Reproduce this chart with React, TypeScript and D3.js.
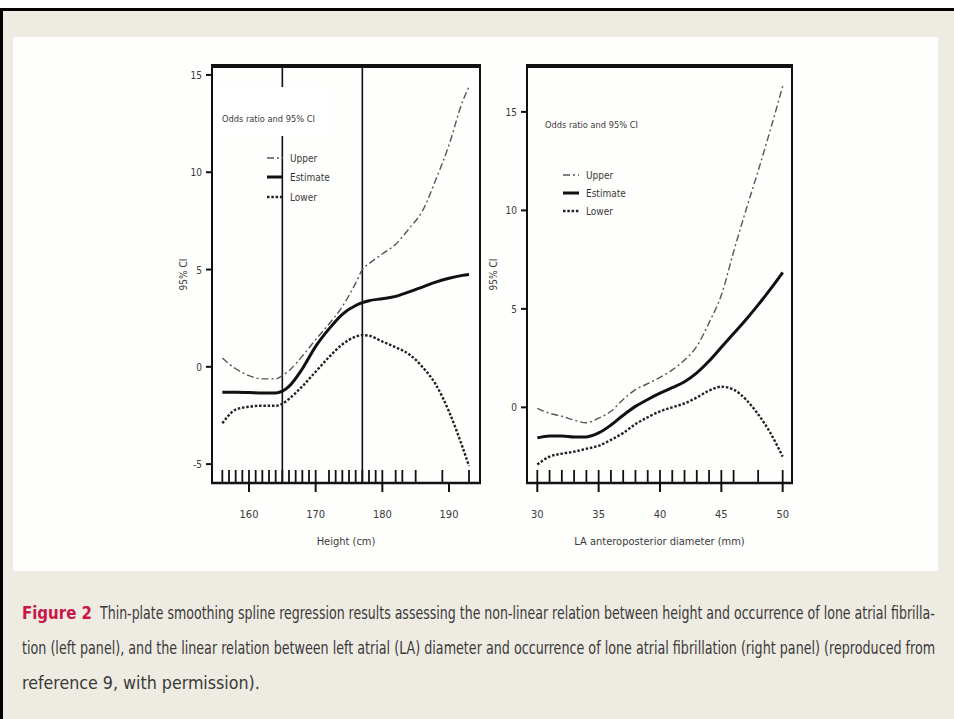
import { useLayoutEffect, useRef, useState } from 'react'
import * as d3 from 'd3'

// Left panel: height (cm)
const heightX = [156, 158, 160, 162, 164, 165, 166, 168, 170, 172, 174, 176, 177, 178, 180, 182, 184, 186, 188, 190, 192, 193]
const heightUpper = [0.45, -0.1, -0.45, -0.62, -0.62, -0.45, -0.2, 0.55, 1.4, 2.2, 3.1, 4.3, 5.0, 5.3, 5.8, 6.3, 7.1, 8.0, 9.6, 11.4, 13.6, 14.4]
const heightEstimate = [-1.3, -1.3, -1.32, -1.35, -1.35, -1.25, -1.0, -0.1, 1.05, 1.95, 2.7, 3.15, 3.3, 3.4, 3.5, 3.62, 3.85, 4.1, 4.35, 4.55, 4.7, 4.75]
const heightLower = [-2.9, -2.2, -2.05, -2.0, -2.0, -1.9, -1.65, -1.0, -0.25, 0.5, 1.15, 1.55, 1.63, 1.6, 1.3, 1.0, 0.65, 0.0, -0.9, -2.3, -4.1, -5.1]
const heightRug = [156, 157, 158, 159, 160, 161, 162, 163, 164, 165, 166, 167, 168, 169, 170, 172, 173, 174, 175, 176, 177, 178, 179, 180, 182, 183, 185, 189, 193]
const heightRefLines = [165, 177]
const heightXTicks = [160, 170, 180, 190]
const heightYTicks = [-5, 0, 5, 10, 15]

// Right panel: LA anteroposterior diameter (mm)
const laX = [30, 31, 32, 33, 34, 35, 36, 37, 38, 39, 40, 41, 42, 43, 44, 45, 46, 47, 48, 49, 50]
const laUpper = [-0.05, -0.3, -0.45, -0.65, -0.78, -0.55, -0.2, 0.4, 0.9, 1.2, 1.52, 1.9, 2.4, 3.1, 4.3, 5.7, 7.9, 10.0, 12.0, 14.1, 16.3]
const laEstimate = [-1.55, -1.45, -1.45, -1.5, -1.5, -1.3, -0.9, -0.4, 0.05, 0.4, 0.72, 1.0, 1.3, 1.75, 2.35, 3.05, 3.75, 4.45, 5.2, 6.0, 6.85]
const laLower = [-2.9, -2.5, -2.35, -2.25, -2.1, -1.95, -1.65, -1.3, -0.85, -0.5, -0.2, 0.0, 0.2, 0.5, 0.85, 1.05, 0.9, 0.4, -0.35, -1.3, -2.5]
const laRug = [30, 31, 32, 33, 34, 35, 36, 37, 38, 39, 40, 41, 42, 43, 44, 45, 46, 48, 50]
const laXTicks = [30, 35, 40, 45, 50]
const laYTicks = [0, 5, 10, 15]

const legendLabels = ['Upper', 'Estimate', 'Lower']
const legendTitle = 'Odds ratio and 95% CI'

const captionLines = [
  'Thin-plate smoothing spline regression results assessing the non-linear relation between height and occurrence of lone atrial fibrilla-',
  'tion (left panel), and the linear relation between left atrial (LA) diameter and occurrence of lone atrial fibrillation (right panel) (reproduced from',
  'reference 9, with permission).',
]

const NARROW = '"Liberation Sans Narrow", "DejaVu Sans Condensed", "Liberation Sans", sans-serif'
const INK = '#3a3a3a'

const STYLES = {
  upper: { width: 1.4, dash: '7,3,2,3', color: '#555' },
  estimate: { width: 3, dash: null, color: '#111' },
  lower: { width: 2.4, dash: '2.5,1.8', color: '#222' },
}

// text squeezed horizontally to a given width (measured, then scaled)
function FitText({ x, y, width, children, ...rest }: any) {
  const ref = useRef<SVGTextElement>(null)
  const [sx, setSx] = useState(1)
  useLayoutEffect(() => {
    if (!ref.current) return
    const len = ref.current.getComputedTextLength()
    if (len > 0) setSx(width / len)
  }, [width, children])
  return (
    <text ref={ref} transform={`translate(${x},${y}) scale(${sx},1)`} {...rest}>{children}</text>
  )
}

type PanelProps = {
  box: { x0: number; x1: number; y0: number; y1: number }
  xDomain: [number, number]
  yDomain: [number, number]
  xs: number[]
  upper: number[]
  estimate: number[]
  lower: number[]
  rug: number[]
  xTicks: number[]
  yTicks: number[]
  xLabel: string
  yLabelOffset: number
  refLines?: number[]
  legend: { titleX: number; titleY: number; lineX: number; itemY: number[]; mask?: boolean }
}

function Panel({ box, xDomain, yDomain, xs, upper, estimate, lower, rug, xTicks, yTicks, xLabel, yLabelOffset, refLines = [], legend }: PanelProps) {
  const x = d3.scaleLinear().domain(xDomain).range([box.x0, box.x1])
  const y = d3.scaleLinear().domain(yDomain).range([box.y1, box.y0])
  const line = d3.line<number>()
    .x((_, i) => x(xs[i]))
    .y(d => y(d))
    .curve(d3.curveMonotoneX)

  const series = [
    { key: 'upper', values: upper },
    { key: 'estimate', values: estimate },
    { key: 'lower', values: lower },
  ] as const

  const midY = (box.y0 + box.y1) / 2
  const midX = (box.x0 + box.x1) / 2

  return (
    <g>
      {/* reference lines */}
      {refLines.map(v => (
        <line key={v} x1={x(v)} x2={x(v)} y1={box.y0} y2={box.y1} stroke="#111" strokeWidth={1.6} />
      ))}

      {/* legend title sits on a white patch (covers ref line) */}
      {legend.mask && (
        <rect x={legend.titleX - 6} y={legend.titleY - 35} width={110} height={49} fill="#fff" />
      )}
      <FitText x={legend.titleX} y={legend.titleY} width={93} fontSize={9} fontFamily={NARROW} fill={INK}>
        {legendTitle}
      </FitText>
      {legendLabels.map((lab, i) => {
        const st = [STYLES.upper, STYLES.estimate, STYLES.lower][i]
        const ly = legend.itemY[i]
        return (
          <g key={lab}>
            <line x1={legend.lineX} x2={legend.lineX + 16} y1={ly - 4} y2={ly - 4}
              stroke={st.color} strokeWidth={st.width} strokeDasharray={st.dash ?? undefined} />
            <text x={legend.lineX + 23} y={ly} fontSize={10} fontFamily={NARROW} fill={INK}>{lab}</text>
          </g>
        )
      })}

      {/* curves */}
      {series.map(s => {
        const st = STYLES[s.key]
        return (
          <path key={s.key} d={line(s.values as number[]) ?? ''} fill="none" stroke={st.color}
            strokeWidth={st.width} strokeDasharray={st.dash ?? undefined} />
        )
      })}

      {/* rug */}
      {rug.map(v => (
        <line key={v} x1={x(v)} x2={x(v)} y1={box.y1} y2={box.y1 - 13} stroke="#111" strokeWidth={1.8} />
      ))}

      {/* frame */}
      <line x1={box.x0} x2={box.x0} y1={box.y0} y2={box.y1} stroke="#111" strokeWidth={2} />
      <line x1={box.x1} x2={box.x1} y1={box.y0} y2={box.y1} stroke="#111" strokeWidth={2} />
      <line x1={box.x0 - 1} x2={box.x1 + 1} y1={box.y1} y2={box.y1} stroke="#111" strokeWidth={2.5} />
      <line x1={box.x0 - 1} x2={box.x1 + 1} y1={box.y0} y2={box.y0} stroke="#111" strokeWidth={4} />

      {/* x axis */}
      {xTicks.map(t => (
        <g key={t}>
          <line x1={x(t)} x2={x(t)} y1={box.y1} y2={box.y1 + 9} stroke="#111" strokeWidth={2} />
          <text x={x(t)} y={box.y1 + 35} textAnchor="middle" fontSize={11} fontFamily={NARROW} fill={INK}>{t}</text>
        </g>
      ))}
      <text x={midX} y={box.y1 + 62} textAnchor="middle" fontSize={11} fontFamily={NARROW} fill={INK}>{xLabel}</text>

      {/* y axis */}
      {yTicks.map(t => (
        <g key={t}>
          <line x1={box.x0} x2={box.x0 - 6} y1={y(t)} y2={y(t)} stroke="#111" strokeWidth={2} />
          <text x={box.x0 - 10} y={y(t) + 4} textAnchor="end" fontSize={10} fontFamily={NARROW} fill={INK}>{t}</text>
        </g>
      ))}
      <text transform={`translate(${box.x0 - yLabelOffset},${midY}) rotate(-90)`} textAnchor="middle" fontSize={10} fontFamily={NARROW} fill={INK}>95% CI</text>
    </g>
  )
}

export default function App() {
  const W = 954
  const H = 719
  return (
    <svg width={W} height={H} style={{ position: 'absolute', left: 0, top: 0, display: 'block' }}>
      <rect x={0} y={0} width={W} height={H} fill="#fff" />
      <rect x={1.5} y={9.5} width={W + 10} height={H + 10} fill="#eeebe2" stroke="#000" strokeWidth={3} />
      <rect x={13} y={37} width={925} height={534} fill="#fefefc" />

      <Panel
        box={{ x0: 212, x1: 480, y0: 66, y1: 483 }}
        xDomain={[154.45, 194.65]}
        yDomain={[-5.97, 15.46]}
        xs={heightX}
        upper={heightUpper}
        estimate={heightEstimate}
        lower={heightLower}
        rug={heightRug}
        xTicks={heightXTicks}
        yTicks={heightYTicks}
        xLabel="Height (cm)"
        yLabelOffset={25}
        refLines={heightRefLines}
        legend={{ titleX: 222, titleY: 122, lineX: 267, itemY: [162, 181, 201], mask: true }}
      />
      <Panel
        box={{ x0: 527, x1: 792, y0: 66, y1: 483 }}
        xDomain={[29.16, 50.76]}
        yDomain={[-3.84, 17.33]}
        xs={laX}
        upper={laUpper}
        estimate={laEstimate}
        lower={laLower}
        rug={laRug}
        xTicks={laXTicks}
        yTicks={laYTicks}
        xLabel="LA anteroposterior diameter (mm)"
        yLabelOffset={30}
        legend={{ titleX: 545, titleY: 128, lineX: 563, itemY: [179, 197, 215] }}
      />

      {/* caption */}
      <FitText x={22} y={619} width={70} fontSize={18} fontWeight="bold" fontFamily={NARROW} fill="#c8174a">Figure 2</FitText>
      <FitText x={100} y={619} width={836} fontSize={17} fontFamily={NARROW} fill={INK}>{captionLines[0]}</FitText>
      <FitText x={22} y={654} width={914} fontSize={17} fontFamily={NARROW} fill={INK}>{captionLines[1]}</FitText>
      <FitText x={22} y={689} width={238} fontSize={17} fontFamily={NARROW} fill={INK}>{captionLines[2]}</FitText>
    </svg>
  )
}
